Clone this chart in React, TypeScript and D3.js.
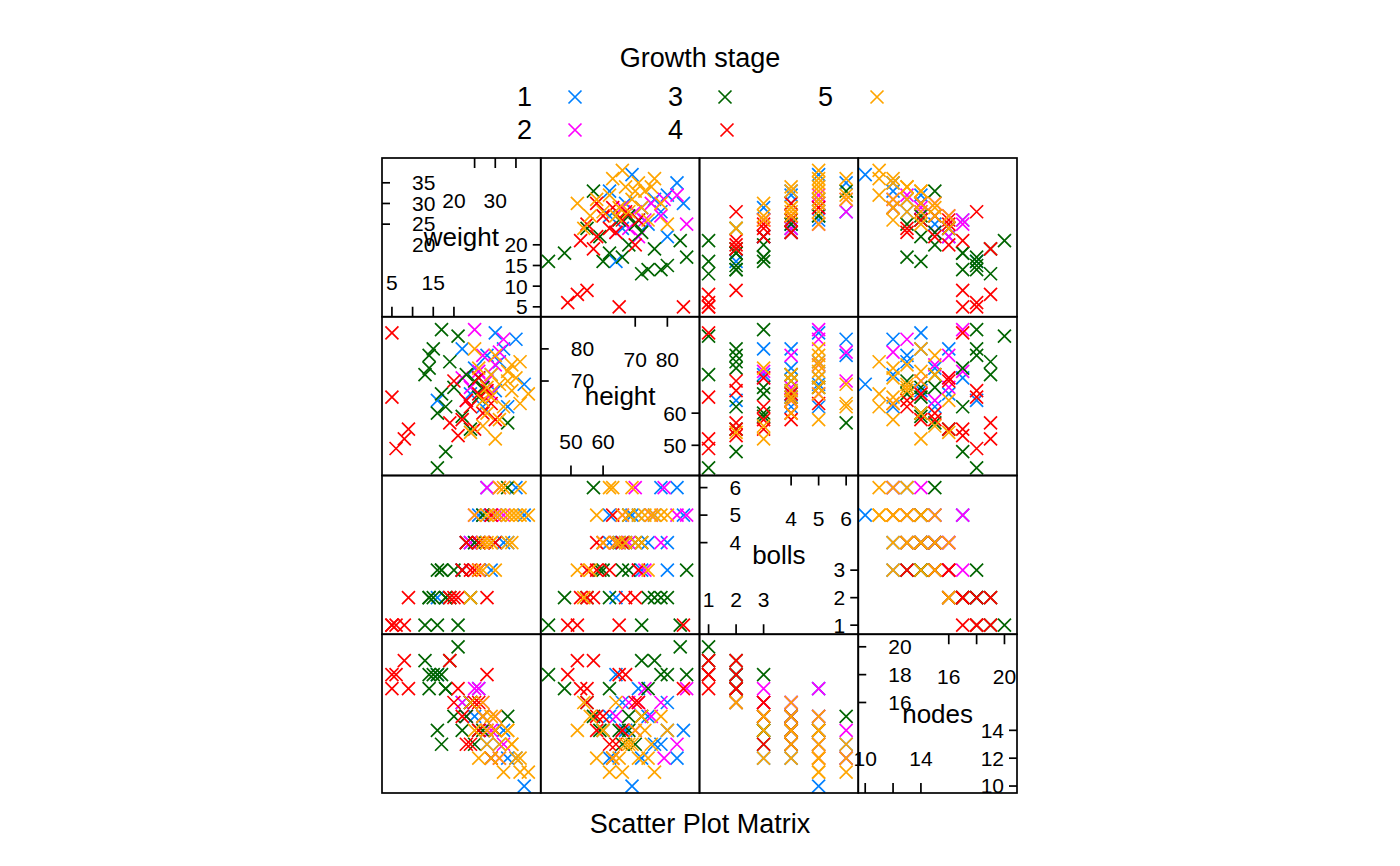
import * as d3 from "d3";

// rows: [weight, height, bolls, nodes]
const stage1: number[][] = [
  [37, 69, 5, 10], [33, 62, 4, 12], [30, 85, 5, 14], [28, 78, 6, 13], [25, 74, 4, 15],
  [22, 80, 3, 16], [26, 71, 5, 17], [16, 64, 2, 18], [30, 67, 4, 14], [31, 76, 5, 13],
  [29, 72, 3, 12], [24, 66, 4, 16], [35, 83, 6, 12], [27, 62, 5, 15], [32, 80, 4, 14],
];
const stage2: number[][] = [
  [25, 86, 5, 17], [27, 78, 4, 16], [30, 75, 5, 15], [28, 70, 6, 14], [24, 68, 4, 16],
  [32, 83, 5, 13], [26, 73, 3, 17], [23, 64, 4, 15], [29, 66, 5, 14], [31, 79, 6, 12],
  [22, 71, 3, 16],
];
const stage3: number[][] = [
  [16, 43, 1, 18], [14, 74, 2, 17], [15, 80, 2, 18], [17, 86, 3, 18], [18, 62, 2, 17],
  [13, 72, 1, 19], [20, 68, 3, 15], [22, 59, 3, 14], [24, 55, 2, 16], [25, 70, 4, 13],
  [26, 65, 4, 14], [18, 48, 2, 17], [19, 76, 2, 19], [21, 84, 1, 20], [16, 60, 3, 14],
  [23, 72, 4, 15], [27, 68, 5, 14], [33, 57, 6, 15], [14, 78, 2, 18], [17, 66, 3, 13],
];
const stage4: number[][] = [
  [5, 85, 1, 17], [5, 65, 1, 18], [8, 52, 1, 19], [6, 49, 1, 18], [9, 55, 2, 17],
  [20, 70, 2, 16], [22, 58, 3, 15], [24, 62, 3, 13], [26, 66, 4, 14], [27, 60, 4, 15],
  [25, 55, 3, 16], [28, 67, 2, 18], [21, 53, 2, 17], [23, 64, 4, 13], [29, 63, 5, 12],
  [30, 58, 4, 14], [19, 57, 2, 19], [26, 71, 3, 16],
];
const stage5: number[][] = [
  [38, 66, 5, 11], [36, 63, 6, 12], [34, 75, 5, 13], [33, 70, 4, 14], [31, 58, 5, 12],
  [30, 52, 3, 14], [29, 72, 4, 15], [28, 68, 5, 13], [27, 64, 4, 16], [26, 74, 3, 12],
  [25, 80, 5, 14], [32, 62, 6, 11], [34, 67, 4, 13], [30, 78, 5, 15], [28, 60, 4, 14],
  [35, 71, 5, 12], [27, 56, 3, 15], [31, 69, 6, 13], [33, 73, 5, 14], [29, 65, 4, 12],
  [24, 54, 2, 16], [36, 76, 5, 11],
];

const stages = [stage1, stage2, stage3, stage4, stage5];
const stageLabels = ["1", "2", "3", "4", "5"];
const stageColors = ["#0080ff", "#ff00ff", "#006400", "#ff0000", "#ffa500"];

const varNames = ["weight", "height", "bolls", "nodes"];
const domains: [number, number][] = [[2.6, 41], [40.6, 90], [0.67, 6.44], [9.5, 20.9]];
const ticks = [
  [5, 10, 15, 20, 25, 30, 35],
  [50, 60, 70, 80],
  [1, 2, 3, 4, 5, 6],
  [10, 12, 14, 16, 18, 20],
];
const leftLabels = [[20, 25, 30, 35], [70, 80], [4, 5, 6], [16, 18, 20]];
const rightLabels = [[5, 10, 15, 20], [50, 60], [1, 2, 3], [10, 12, 14]];
const topLabels = [[20, 30], [70, 80], [4, 5, 6], [16, 20]];
const bottomLabels = [[5, 15], [50, 60], [1, 2, 3], [10, 14]];

const left = 382, top = 158, size = 158.75;
const font = "Arial, Liberation Sans, sans-serif";

const Cross = ({ x, y, c }: { x: number; y: number; c: string }) => (
  <path d={`M${x - 6.5},${y - 6.5}L${x + 6.5},${y + 6.5}M${x - 6.5},${y + 6.5}L${x + 6.5},${y - 6.5}`} stroke={c} strokeWidth={1.7} fill="none" />
);

export default function App() {
  const panels = [];
  for (let r = 0; r < 4; r++) {
    for (let c = 0; c < 4; c++) {
      const x0 = left + c * size, y0 = top + r * size;
      const xs = d3.scaleLinear().domain(domains[c]).range([x0, x0 + size]);
      const ys = d3.scaleLinear().domain(domains[r]).range([y0 + size, y0]);
      const items = [];
      if (r === c) {
        const v = r;
        const mid = (domains[v][0] + domains[v][1]) / 2;
        ticks[v].forEach((t, i) => {
          if (t >= mid) {
            items.push(<line key={"l" + i} x1={x0} x2={x0 + 8} y1={ys(t)} y2={ys(t)} stroke="#000" strokeWidth={1.7} />);
            items.push(<line key={"t" + i} x1={xs(t)} x2={xs(t)} y1={y0} y2={y0 + 10} stroke="#000" strokeWidth={1.7} />);
          }
          if (t <= mid) {
            items.push(<line key={"r" + i} x1={x0 + size - 8} x2={x0 + size} y1={ys(t)} y2={ys(t)} stroke="#000" strokeWidth={1.7} />);
            items.push(<line key={"b" + i} x1={xs(t)} x2={xs(t)} y1={y0 + size - 10} y2={y0 + size} stroke="#000" strokeWidth={1.7} />);
          }
        });
        leftLabels[v].forEach((t) => items.push(<text key={"lt" + t} x={x0 + 30} y={ys(t)} dy="0.35em" textAnchor="start" fontSize={21}>{t}</text>));
        rightLabels[v].forEach((t) => items.push(<text key={"rt" + t} x={x0 + size - 13} y={ys(t)} dy="0.35em" textAnchor="end" fontSize={21}>{t}</text>));
        topLabels[v].forEach((t) => items.push(<text key={"tt" + t} x={xs(t)} y={y0 + 50} textAnchor="middle" fontSize={21}>{t}</text>));
        bottomLabels[v].forEach((t) => items.push(<text key={"bt" + t} x={xs(t)} y={y0 + size - 27} textAnchor="middle" fontSize={21}>{t}</text>));
        items.push(<text key="name" x={x0 + size / 2} y={y0 + size / 2} dy="0.35em" textAnchor="middle" fontSize={26}>{varNames[v]}</text>);
      } else {
        stages.forEach((rows, s) =>
          rows.forEach((d, i) => items.push(<Cross key={s + "-" + i} x={xs(d[c])} y={ys(d[r])} c={stageColors[s]} />))
        );
      }
      panels.push(
        <g key={r + "-" + c}>
          {items}
          <rect x={x0} y={y0} width={size} height={size} fill="none" stroke="#000" strokeWidth={1.7} />
        </g>
      );
    }
  }
  const legendPos = [[532, 575, 97], [532, 575, 130], [683, 725, 97], [683, 727, 130], [833, 877, 97]];
  return (
    <svg width={1400} height={866} style={{ position: "absolute", left: 0, top: 0 }} fontFamily={font}>
      <rect width={1400} height={866} fill="#fff" />
      <text x={700} y={67} textAnchor="middle" fontSize={27}>Growth stage</text>
      {stageLabels.map((l, i) => (
        <g key={l}>
          <text x={legendPos[i][0]} y={legendPos[i][2]} dy="0.35em" textAnchor="end" fontSize={27}>{l}</text>
          <Cross x={legendPos[i][1]} y={legendPos[i][2]} c={stageColors[i]} />
        </g>
      ))}
      {panels}
      <text x={700} y={833} textAnchor="middle" fontSize={27}>Scatter Plot Matrix</text>
    </svg>
  );
}
